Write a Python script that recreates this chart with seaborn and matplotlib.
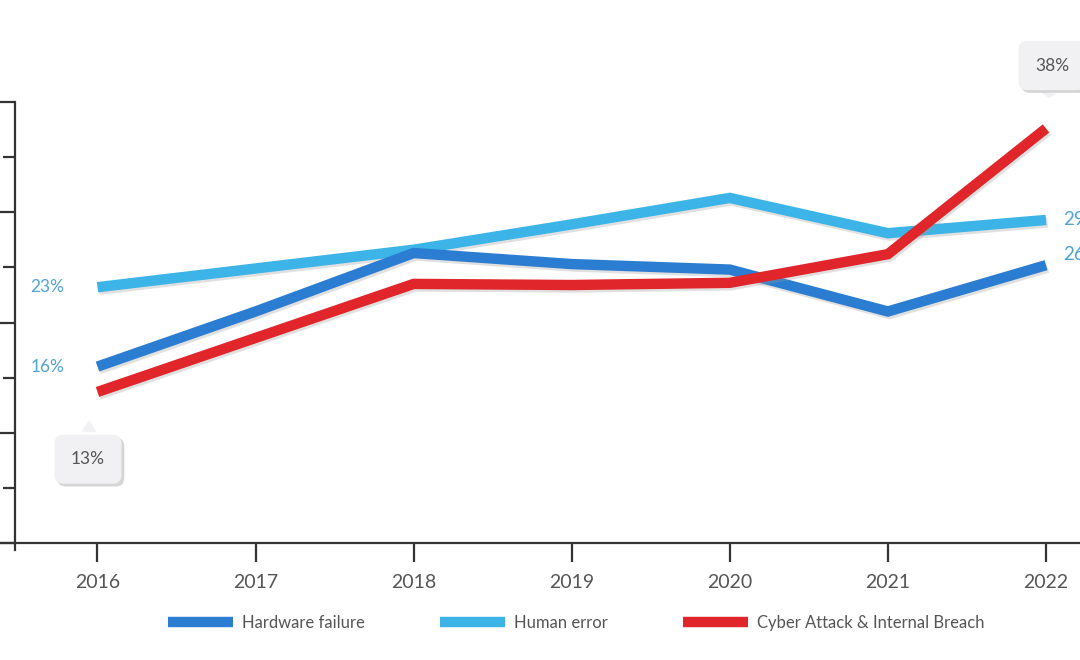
import numpy as np
import pandas as pd
import matplotlib
matplotlib.use("Agg")
import matplotlib.pyplot as plt
import matplotlib.patheffects as pe
from matplotlib.lines import Line2D
import seaborn as sns

# data (percent)
years = [2016, 2017, 2018, 2019, 2020, 2021, 2022]
hardware = [16.0, 21.0, 26.3, 25.3, 24.8, 21.0, 25.2]
human = [23.2, 24.9, 26.6, 28.9, 31.3, 28.1, 29.3]
cyber = [13.7, 18.6, 23.5, 23.4, 23.6, 26.2, 37.6]

series_names = ["Hardware failure", "Human error", "Cyber Attack & Internal Breach"]
series_colors = ["#2a7dd1", "#3cb4e7", "#e0262a"]

# start / end labels
left_labels = {"Hardware failure": "16%", "Human error": "23%"}
right_labels = {"Hardware failure": "26%", "Human error": "29%"}
label_color = "#4fa3d6"

df = pd.DataFrame({
    "year": years * 3,
    "value": hardware + human + cyber,
    "series": np.repeat(series_names, len(years)),
})

sns.set_theme(style="white")
plt.rcParams["font.family"] = ["Lato", "DejaVu Sans"]

fig = plt.figure(figsize=(10.8, 6.6), dpi=100)
fig.patch.set_facecolor("white")

# axes spans whole width, y spine pushed a little inward
px_year = 158.1
x0 = 2016 - 97.5 / px_year
x1 = 2022 + 34 / px_year
ax = fig.add_axes([0.0, 1 - 543 / 660, 1.0, (543 - 102) / 660])

sns.lineplot(data=df, x="year", y="value", hue="series", hue_order=series_names,
             palette=series_colors, linewidth=7.5, ax=ax, legend=False)

shadow = [pe.SimpleLineShadow(offset=(1.2, -1.8), shadow_color="#999999", alpha=0.3), pe.Normal()]
for line, z in zip(ax.lines, [3, 2, 4]):
    line.set_zorder(z)
    line.set_solid_capstyle("butt")
    line.set_solid_joinstyle("miter")
    line.set_path_effects(shadow)

ax.set_xlim(x0, x1)
ax.set_ylim(0, 40)
ax.set_xticks(years)
ax.set_xticklabels([str(y) for y in years])
ax.set_yticks([0, 10, 20, 30, 40])
ax.set_yticks([5, 15, 25, 35], minor=True)
ax.set_xlabel("")
ax.set_ylabel("")

for s in ["top", "right"]:
    ax.spines[s].set_visible(False)
ax.spines["left"].set_position(("data", 2016 - 82.5 / px_year))
ax.spines["left"].set_bounds(-0.6, 40)
for s in ["left", "bottom"]:
    ax.spines[s].set_color("#333333")
    ax.spines[s].set_linewidth(1.6)

ax.tick_params(axis="x", which="major", bottom=True, direction="out", length=14, width=1.6,
               color="#333333", pad=8, labelsize=14, labelcolor="#555555")
ax.tick_params(axis="x", which="minor", bottom=False)
ax.tick_params(axis="y", which="major", left=True, direction="out", length=11, width=1.6,
               color="#333333", labelleft=False)
ax.tick_params(axis="y", which="minor", left=True, direction="out", length=9, width=1.6,
               color="#333333", labelleft=False)

# value labels at the ends
vals = {"Hardware failure": hardware, "Human error": human}
for name, txt in left_labels.items():
    ax.text(2016 - 50 / px_year, vals[name][0], txt, ha="center", va="center",
            fontsize=12.5, color=label_color, clip_on=False)
ax.text(2022 + 17 / px_year, human[-1], right_labels["Human error"], ha="left", va="center",
        fontsize=13.5, color=label_color, clip_on=False)
ax.text(2022 + 17 / px_year, hardware[-1] + 1.0, right_labels["Hardware failure"], ha="left",
        va="center", fontsize=13.5, color=label_color, clip_on=False)

# speech-bubble callouts
bubble = dict(boxstyle="round,pad=0.95,rounding_size=0.5", fc="#f1f1f3", ec="none")
arrow = dict(arrowstyle="wedge,tail_width=0.9,shrink_factor=0.5", fc="#f1f1f3", ec="none")
a1 = ax.annotate("13%", xy=(2016 - 8 / px_year, 11.4), xytext=(2016 - 9.5 / px_year, 7.6),
                 ha="center", va="center", fontsize=12.5, color="#555555",
                 bbox=bubble, arrowprops=arrow, annotation_clip=False)
a2 = ax.annotate("38%", xy=(2022 + 2 / px_year, 40.1), xytext=(2022 + 6 / px_year, 43.3),
                 ha="center", va="center", fontsize=12.5, color="#555555",
                 bbox=bubble, arrowprops=arrow, annotation_clip=False)
for a in (a1, a2):
    a.get_bbox_patch().set_path_effects(
        [pe.withSimplePatchShadow(offset=(2, -2), shadow_rgbFace="#777777", alpha=0.3)])

# legend
handles = [Line2D([0], [0], color=c, linewidth=7.5, solid_capstyle="butt") for c in series_colors]
fig.legend(handles, series_names, loc="center", bbox_to_anchor=(576 / 1080, 1 - 623 / 660),
           ncol=3, frameon=False, fontsize=12, labelcolor="#555555",
           handlelength=3.9, handletextpad=0.55, columnspacing=4.5)

fig.savefig("out.png", dpi=100, facecolor="white")
